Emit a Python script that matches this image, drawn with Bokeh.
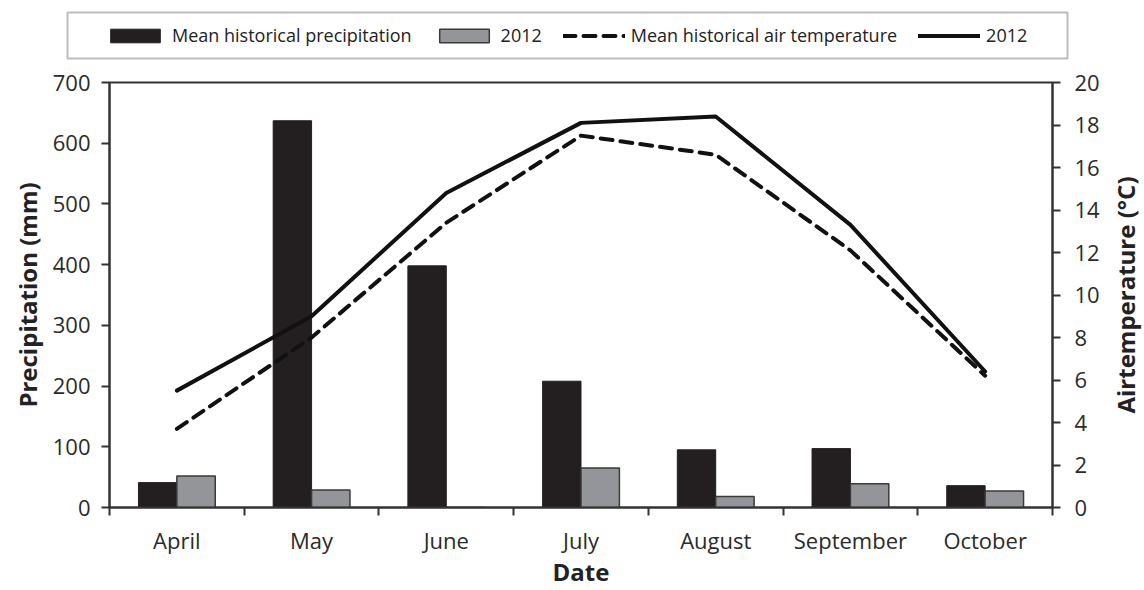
import math
from bokeh.plotting import figure
from bokeh.layouts import row
from bokeh.models import (Range1d, LinearAxis, FixedTicker, CustomJSTickFormatter,
                          Legend, LegendItem, ColumnDataSource, BoxAnnotation, Label)
from bokeh.embed import file_html
from bokeh.resources import INLINE

months = ["April", "May", "June", "July", "August", "September", "October"]
precip_hist = [41, 637, 398, 208, 95, 97, 36]
precip_2012 = [52, 29, 0, 65, 18, 39, 27]
temp_hist = [3.7, 8.0, 13.4, 17.5, 16.6, 12.1, 6.2]
temp_2012 = [5.5, 9.0, 14.8, 18.1, 18.4, 13.3, 6.4]
precip_ticks = [0, 100, 200, 300, 400, 500, 600, 700]
temp_ticks = [0, 2, 4, 6, 8, 10, 12, 14, 16, 18, 20]
legend_labels = ["Mean historical precipitation", "2012", "Mean historical air temperature", "2012"]
right_title = "Airtemperature (°C)"

FONT = "Open Sans"
AX = "#333333"
BLACK_FILL = "#231f20"
GRAY_FILL = "#939598"

idx = list(range(len(months)))
centers = [i + 0.5 for i in idx]
bw = 0.285
src = ColumnDataSource(dict(
    xh=[c - bw / 2 for c in centers],
    x12=[c + bw / 2 for c in centers],
    xc=centers,
    ph=precip_hist, p12=precip_2012, th=temp_hist, t12=temp_2012,
))

STRIP_H = 62
MAIN_H = 590 - STRIP_H
MAIN_W = 1102

# ---------------- main chart ----------------
p = figure(width=MAIN_W, height=MAIN_H, output_backend="svg", toolbar_location=None,
           x_range=Range1d(0, len(months)), y_range=Range1d(0, 700),
           min_border_left=109, min_border_right=48, min_border_top=82 - STRIP_H, min_border_bottom=81,
           x_axis_location=None, y_axis_location=None)
p.extra_y_ranges = {"temp": Range1d(0, 20)}
p.grid.visible = False
p.outline_line_color = AX
p.outline_line_width = 2
p.background_fill_color = "white"
p.border_fill_color = "white"

bar_h = dict(fill_color=BLACK_FILL, line_color=BLACK_FILL, line_width=1)
bar_12 = dict(fill_color=GRAY_FILL, line_color="#3a3a3a", line_width=1.5)
ln_h = dict(line_color="#111111", line_width=4, line_dash="12 8", line_cap="round", line_join="round")
ln_12 = dict(line_color="#111111", line_width=4, line_cap="round", line_join="round")

p.vbar(x="xh", width=bw, top="ph", bottom=0, source=src, **bar_h)
p.vbar(x="x12", width=bw, top="p12", bottom=0, source=src, **bar_12)
p.line(x="xc", y="th", source=src, y_range_name="temp", **ln_h)
p.line(x="xc", y="t12", source=src, y_range_name="temp", **ln_12)

def style_axis(ax):
    ax.axis_line_color = AX
    ax.axis_line_width = 2
    ax.major_tick_line_color = AX
    ax.major_tick_line_width = 2
    ax.minor_tick_line_color = AX
    ax.minor_tick_line_width = 2
    ax.major_label_text_font = FONT
    ax.major_label_text_font_size = "22px"
    ax.major_label_text_color = "#2b2b2b"
    ax.axis_label_text_font = FONT
    ax.axis_label_text_font_size = "24px"
    ax.axis_label_text_font_style = "bold"
    ax.axis_label_text_color = "#222222"

xax = LinearAxis(ticker=FixedTicker(ticks=centers, minor_ticks=[float(i) for i in range(len(months) + 1)]),
                 formatter=CustomJSTickFormatter(args=dict(labels=months),
                                                 code="return labels[Math.floor(tick)]"),
                 axis_label="Date")
style_axis(xax)
xax.major_tick_out = 0
xax.major_tick_in = 0
xax.minor_tick_out = 8
xax.minor_tick_in = 0
xax.major_label_standoff = 9
xax.axis_label_standoff = -3
p.add_layout(xax, "below")

yax = LinearAxis(ticker=FixedTicker(ticks=precip_ticks, minor_ticks=[]), axis_label="Precipitation (mm)")
style_axis(yax)
yax.major_tick_out = 8
yax.major_tick_in = 0
yax.major_label_standoff = 11
yax.axis_label_standoff = 6
p.add_layout(yax, "left")

rax = LinearAxis(y_range_name="temp", ticker=FixedTicker(ticks=temp_ticks, minor_ticks=[]))
style_axis(rax)
rax.major_tick_out = 8
rax.major_tick_in = 0
rax.major_label_standoff = 14
p.add_layout(rax, "right")

# ---------------- right axis title strip ----------------
tf = figure(width=1144 - MAIN_W, height=MAIN_H, output_backend="svg", toolbar_location=None,
            x_range=Range1d(0, 1), y_range=Range1d(0, 1),
            min_border_left=0, min_border_right=0, min_border_top=82 - STRIP_H, min_border_bottom=81,
            x_axis_location=None, y_axis_location=None)
tf.grid.visible = False
tf.outline_line_color = None
tf.background_fill_color = "white"
tf.border_fill_color = "white"
tf.add_layout(Label(x=0.55, y=0.5, text=right_title, angle=math.pi / 2,
                    text_align="center", text_baseline="middle",
                    text_font=FONT, text_font_size="24px", text_font_style="bold",
                    text_color="#222222"))

# ---------------- legend strip ----------------
lg = figure(width=1144, height=STRIP_H, output_backend="svg", toolbar_location=None,
            x_range=Range1d(0, 1), y_range=Range1d(0, 1),
            min_border_left=0, min_border_right=0, min_border_top=0, min_border_bottom=0,
            x_axis_location=None, y_axis_location=None)
lg.grid.visible = False
lg.outline_line_color = None
lg.background_fill_color = "white"
lg.border_fill_color = "white"
nan = float("nan")
proxy = ColumnDataSource(dict(x=[nan], y=[nan], top=[nan]))
g1 = lg.vbar(x="x", top="top", width=0.1, source=proxy, **bar_h)
g2 = lg.vbar(x="x", top="top", width=0.1, source=proxy, **bar_12)
g3 = lg.line(x="x", y="y", source=proxy, **ln_h)
g4 = lg.line(x="x", y="y", source=proxy, **ln_12)

lg.add_layout(BoxAnnotation(left=67, right=1067, top=STRIP_H - 12, bottom=STRIP_H - 58,
                            left_units="screen", right_units="screen",
                            top_units="screen", bottom_units="screen",
                            fill_alpha=0, line_color="#222222", line_width=2, level="overlay"))

legend = Legend(items=[LegendItem(label=t, renderers=[r]) for t, r in zip(legend_labels, [g1, g2, g3, g4])],
                orientation="horizontal", location=(104, 23 - (70 - STRIP_H)))
legend.label_text_font = FONT
legend.label_text_font_size = "18px"
legend.label_text_color = "#222222"
legend.glyph_width = 62
legend.glyph_height = 17
legend.label_standoff = 6
legend.spacing = 21
legend.padding = 0
legend.margin = 0
legend.border_line_color = None
legend.background_fill_alpha = 0
lg.add_layout(legend, "center")

open("out.html", "w").write(file_html([lg, row(p, tf, spacing=0)], INLINE))
